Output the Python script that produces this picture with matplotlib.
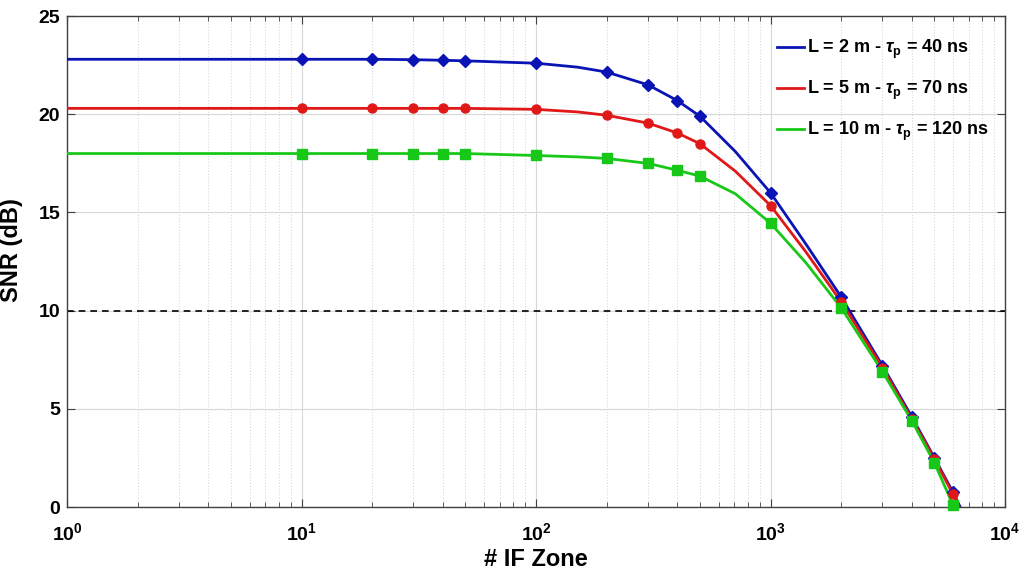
import numpy as np
import matplotlib.pyplot as plt

plt.rcParams['font.family'] = ['Liberation Sans', 'DejaVu Sans']
plt.rcParams['font.weight'] = 'bold'
plt.rcParams['mathtext.fontset'] = 'custom'
plt.rcParams['mathtext.rm'] = 'Liberation Sans:bold'
plt.rcParams['mathtext.it'] = 'Liberation Sans:italic'
plt.rcParams['mathtext.default'] = 'rm'

# line samples, markers at a subset of them
zones = [1, 10, 20, 30, 40, 50, 100, 150, 200, 300, 400, 500, 708, 1000,
         1413, 2000, 3000, 4000, 5000, 6000, 6500]
snr_2m = [22.8, 22.8, 22.8, 22.78, 22.75, 22.72, 22.6, 22.4, 22.15, 21.5,
          20.7, 19.9, 18.1, 16.0, 13.4, 10.7, 7.2, 4.6, 2.5, 0.75, -0.1]
snr_5m = [20.3, 20.3, 20.3, 20.3, 20.3, 20.3, 20.25, 20.12, 19.95, 19.55,
          19.05, 18.5, 17.1, 15.35, 13.0, 10.45, 7.1, 4.5, 2.45, 0.65, -0.2]
snr_10m = [18.0, 18.0, 18.0, 18.0, 18.0, 18.0, 17.9, 17.83, 17.75, 17.5,
           17.15, 16.85, 15.95, 14.45, 12.45, 10.15, 6.9, 4.4, 2.25, 0.1, -0.8]
mark_idx = [1, 2, 3, 4, 5, 6, 8, 9, 10, 11, 13, 15, 16, 17, 18, 19]

labels = [r'L = 2 m - $\mathit{\tau}_\mathrm{p}$ = 40 ns',
          r'L = 5 m - $\mathit{\tau}_\mathrm{p}$ = 70 ns',
          r'L = 10 m - $\mathit{\tau}_\mathrm{p}$ = 120 ns']
colors = ['#0a14b4', '#e01818', '#18c818']
markers = ['D', 'o', 's']
threshold = 10

fig = plt.figure(figsize=(10.22, 5.74), dpi=100)
ax = fig.add_axes([0.0656, 0.1167, 0.9178, 0.8553])

x = np.array(zones)
for y, c, m, lab in zip([snr_2m, snr_5m, snr_10m], colors, markers, labels):
    y = np.array(y)
    ax.plot(x, y, color=c, lw=2.0, label=lab, zorder=3)
    ax.plot(x[mark_idx], y[mark_idx], ls='none', marker=m, color=c,
            ms=6.5 if m != 'D' else 6, zorder=4, clip_on=False)

ax.axhline(threshold, color='black', ls='--', lw=1.2, dashes=(4, 3), zorder=2)

ax.set_xscale('log')
ax.set_xlim(1, 1e4)
ax.set_ylim(0, 25)
ax.set_yticks([0, 5, 10, 15, 20, 25])
ax.set_xticks([1, 10, 100, 1000, 10000])
ax.set_xticklabels([r'$10^{0}$', r'$10^{1}$', r'$10^{2}$', r'$10^{3}$',
                    r'$10^{4}$'])

ax.grid(which='major', color='#d8d8d8', ls='-', lw=0.8)
ax.grid(which='minor', axis='x', color='#d8d8d8', ls=':', lw=0.8)
ax.set_axisbelow(True)

ax.tick_params(which='both', direction='in', top=True, right=True,
               labelsize=14, color='#404040')
ax.tick_params(which='major', length=6)
ax.tick_params(which='minor', length=3.5)
ax.tick_params(axis='x', which='major', pad=11)
ax.tick_params(axis='y', which='major', pad=5)
for s in ax.spines.values():
    s.set_color('#404040')
    s.set_linewidth(1.0)

ax.set_xlabel('# IF Zone', fontsize=17, fontweight='bold', labelpad=3)
ax.set_ylabel('SNR (dB)', fontsize=17, fontweight='bold')
ax.yaxis.set_label_coords(-0.047, 0.523)

leg = ax.legend(loc='upper right', frameon=False, fontsize=13,
                handlelength=1.5, handletextpad=0.15, labelspacing=0.98,
                bbox_to_anchor=(1.0, 0.988))

fig.savefig('out.png', dpi=100)
